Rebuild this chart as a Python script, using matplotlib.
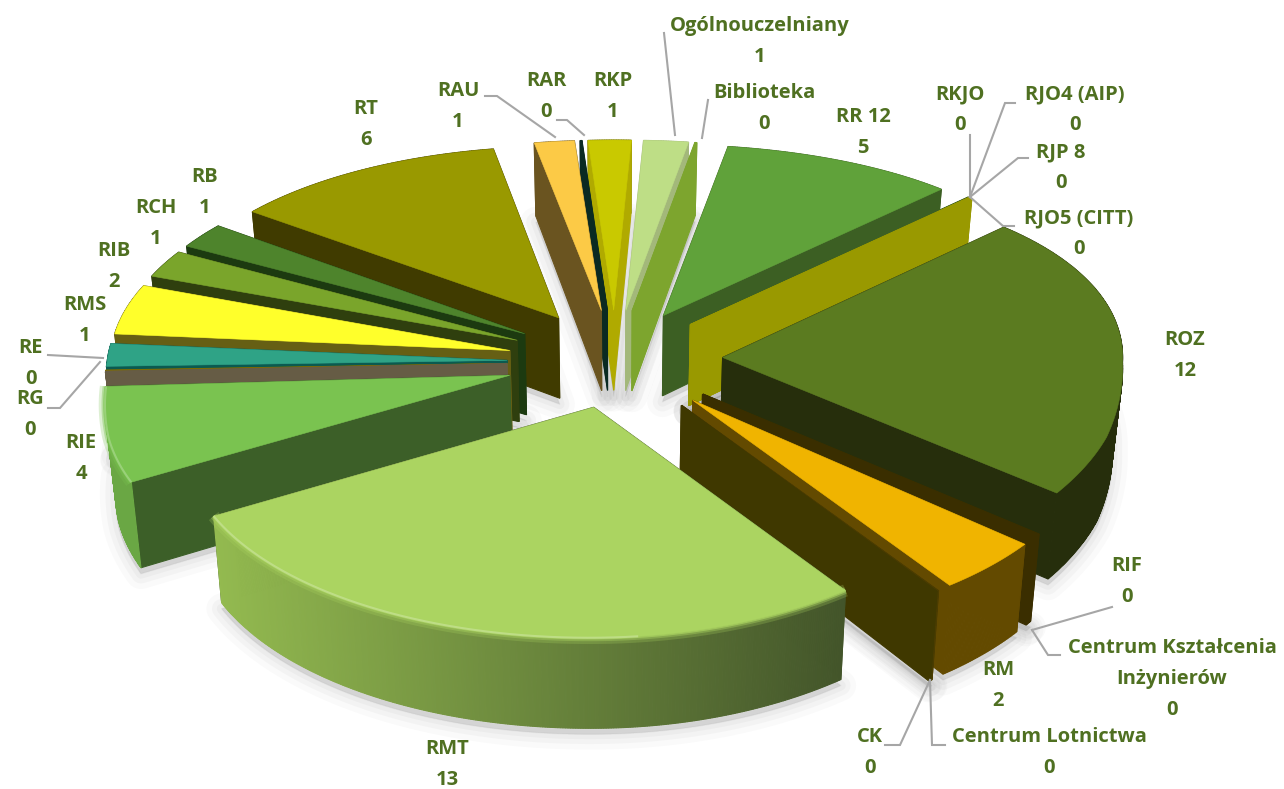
import numpy as np
import matplotlib
matplotlib.use('Agg')
from matplotlib import pyplot as plt
from matplotlib.colors import to_rgb
from matplotlib.patches import Polygon

plt.rcParams['font.family'] = ['Open Sans', 'DejaVu Sans']

# kolejnosc zgodnie z ruchem wskazowek, od RR 12
kategorie = ['RR 12', 'RKJO', 'RJO4 (AIP)', 'RJP 8', 'RJO5 (CITT)', 'ROZ', 'RIF',
             'Centrum Kształcenia\nInżynierów', 'RM', 'Centrum Lotnictwa', 'CK', 'RMT',
             'RIE', 'RG', 'RE', 'RMS', 'RIB', 'RCH', 'RB', 'RT', 'RAU', 'RAR', 'RKP',
             'Ogólnouczelniany', 'Biblioteka']
wartosci = [5, 0, 0, 0, 0, 12, 0, 0, 2, 0, 0, 13, 4, 0, 0, 1, 2, 1, 1, 6, 1, 0, 1, 1, 0]
# udzial (wartosci sa zaokraglone)
udzial = [4.82, 0.02, 0.02, 0.02, 0.03, 11.25, 0.07, 0.07, 2.15, 0.03, 0.04, 14.03,
          3.40, 0.03, 0.03, 0.89, 2.11, 1.18, 1.11, 5.97, 0.86, 0.04, 0.9, 0.9, 0.04]

kolor_gora = ['#60a23a', '#3c5f23', '#999900', '#999900', '#999900', '#5b7b20', '#3a2e00',
              '#3a2e00', '#f0b400', '#4a3c00', '#3f3800', '#abd461', '#7ac350', '#665c45',
              '#7f6d00', '#2fa386', '#ffff2b', '#7aa52b', '#4e842c', '#999900', '#fcca46',
              '#0a2a22', '#c9c900', '#bede86', '#7da52e']
kolor_sciana = ['#3c5f23', '#3c5f23', '#999900', '#999900', '#999900', '#262e0c', '#3a2e00',
                '#3a2e00', '#634a00', '#4a3c00', '#3f3800', '#43552a', '#3c5f28', '#665c45',
                '#7f6d00', '#0b5a50', '#665f14', '#2f3f0e', '#1c3a10', '#403b00', '#6a5420',
                '#0a2a22', '#b0aa00', '#a3b87a', '#7da52e']
kolor_luk = ['#3c5f23', '#3c5f23', '#999900', '#999900', '#999900', '#262e0c', '#3a2e00',
             '#3a2e00', '#634a00', '#4a3c00', '#3f3800', '#43552a', '#6aa744', '#665c45',
             '#7f6d00', '#0b5a50', '#665f14', '#2f3f0e', '#1c3a10', '#403b00', '#6a5420',
             '#0a2a22', '#6b6b00', '#a3b87a', '#7da52e']

etykiety_xy = [(863, 117), (960, 94), (1075, 94), (1061, 152), (1079, 218), (1185, 340),
               (1127, 566), (1172, 648), (998, 670), (1049, 737), (870, 737), (447, 749),
               (81, 443), (30, 399), (31, 348), (85, 305), (114, 251), (156, 208), (205, 177),
               (366, 109), (458, 91), (546, 81), (613, 81), (760, 26), (764, 93)]

linie = [[(970, 135), (970, 197)],
         [(1015, 103), (1005, 103), (970, 197)],
         [(1028, 158), (1018, 158), (970, 197)],
         [(1014, 226), (1003, 226), (970, 197)],
         [(1112, 607), (1032, 630)],
         [(1060, 655), (1048, 655), (1032, 630)],
         [(885, 745), (900, 745), (930, 680)],
         [(945, 745), (932, 745), (930, 680)],
         [(48, 355), (103, 358)],
         [(48, 408), (60, 408), (100, 362)],
         [(485, 96), (497, 96), (555, 137)],
         [(557, 120), (567, 120), (584, 135)],
         [(664, 33), (675, 135)],
         [(708, 100), (702, 138)]]

kolor_tekst = '#4f7021'
kolor_linia = '#a6a6a6'

start = 9.3
eksplozja = {'RMT': 0.23}
srodek = (615, 362)
A, B, p = 400, 197.3, 0.1014


def rzut(X, Y):
    X, Y = np.asarray(X, float), np.asarray(Y, float)
    d = 1 + p * Y
    # korekty dopasowane do rysunku: lewa strona tyl szerszy, przod wezszy
    s = np.where(Y > 0, 20, 35)
    x = srodek[0] + A * X - s * Y * np.minimum(X, 0) - 15 * np.minimum(Y, 0) * np.maximum(X, 0)
    y = srodek[1] - B * Y / d + 14 * np.minimum(X ** 2, 1) * np.clip(-Y / 0.3, 0, 1)
    return x, y


def dol(X, Y):
    x, y = rzut(X, Y)
    return srodek[0] + (x - srodek[0]) * 0.98, y + 82 - 7 * np.asarray(Y)


def mix(k1, k2, t):
    a, b = np.array(to_rgb(k1)), np.array(to_rgb(k2))
    return tuple(a + (b - a) * t)


fig = plt.figure(figsize=(12.84, 7.89), dpi=100)
ax = fig.add_axes([0, 0, 1, 1])
ax.set_xlim(0, 1284)
ax.set_ylim(789, 0)
ax.axis('off')

katy = np.cumsum([0] + udzial) / sum(udzial) * 360 + start
wycinki = []
for i in range(len(udzial)):
    n = max(3, int((katy[i + 1] - katy[i]) * 3))
    t = np.radians(np.linspace(katy[i], katy[i + 1], n))
    b = np.radians((katy[i] + katy[i + 1]) / 2)
    e = eksplozja.get(kategorie[i], 0.27)
    X0, Y0 = e * np.sin(b), e * np.cos(b)
    wycinki.append((i, X0, Y0, X0 + np.sin(t), Y0 + np.cos(t)))

# cien pod wycinkami
for i, X0, Y0, X, Y in wycinki:
    xs, ys = dol(np.r_[X0, X], np.r_[Y0, Y])
    for lw, al in [(22, 0.04), (14, 0.05), (7, 0.06), (1, 0.08)]:
        ax.add_patch(Polygon(np.c_[xs, ys + 6], closed=True, fc='#808080', ec='#808080',
                             lw=lw, alpha=al, joinstyle='round', zorder=1))

# od tylu do przodu
kolejnosc = sorted(wycinki, key=lambda w: -(w[2] + np.mean(w[4]) * 0.3))
for nr, (i, X0, Y0, X, Y) in enumerate(kolejnosc):
    z = 2 + nr
    x0, y0 = rzut(X0, Y0)
    x0d, y0d = dol(X0, Y0)
    xa, ya = rzut(X, Y)
    xb, yb = dol(X, Y)
    sciany = []
    for j in range(len(X) - 1):
        sciany.append((np.mean(Y[j:j + 2]),
                       [(xa[j], ya[j]), (xa[j + 1], ya[j + 1]), (xb[j + 1], yb[j + 1]), (xb[j], yb[j])],
                       'luk', (xa[j] + xa[j + 1]) / 2))
    for k in (0, -1):
        sciany.append(((Y0 + Y[k]) / 2, [(x0, y0), (xa[k], ya[k]), (xb[k], yb[k]), (x0d, y0d)], 'r', 0))
    sciany.sort(key=lambda s: -s[0])
    for _, pts, typ, xm in sciany:
        if typ == 'r':
            kol = kolor_sciana[i]
        elif kategorie[i] == 'RMT':
            tt = np.clip((xm - 207) / (845 - 207), 0, 1)
            kol = mix('#94bb50', '#43552a', tt)
        else:
            kol = kolor_luk[i]
        ax.add_patch(Polygon(pts, closed=True, fc=kol, ec=kol, lw=0.8, zorder=z))
    ax.add_patch(Polygon(np.c_[np.r_[x0, xa], np.r_[y0, ya]], closed=True, fc=kolor_gora[i],
                         ec=kolor_gora[i], lw=0.4, zorder=z))
    if kategorie[i] in ('RMT', 'RIE'):
        # jasne, rozmyte sciecie krawedzi
        for lw, al in [(9, 0.25), (5, 0.4), (2.5, 0.7)]:
            ax.plot(xa, ya, color=kolor_gora[i], lw=lw, alpha=al, zorder=z, solid_capstyle='butt')
        maska = xa < 640
        ax.plot(xa[maska], ya[maska], color=mix(kolor_gora[i], '#ffffff', 0.3), lw=1.5, alpha=0.8,
                zorder=z, solid_capstyle='butt')

for pts in linie:
    ax.plot(*zip(*pts), color=kolor_linia, lw=1.5, zorder=60, solid_joinstyle='miter')

for kat, wart, (x, y) in zip(kategorie, wartosci, etykiety_xy):
    wiersze = kat.split('\n') + [str(wart)]
    for n, w in enumerate(wiersze):
        ax.text(x, y + n * 30.8, w, ha='center', va='center', fontsize=14.5, fontweight='bold',
                color=kolor_tekst, zorder=70)

plt.savefig('out.png', dpi=100)
